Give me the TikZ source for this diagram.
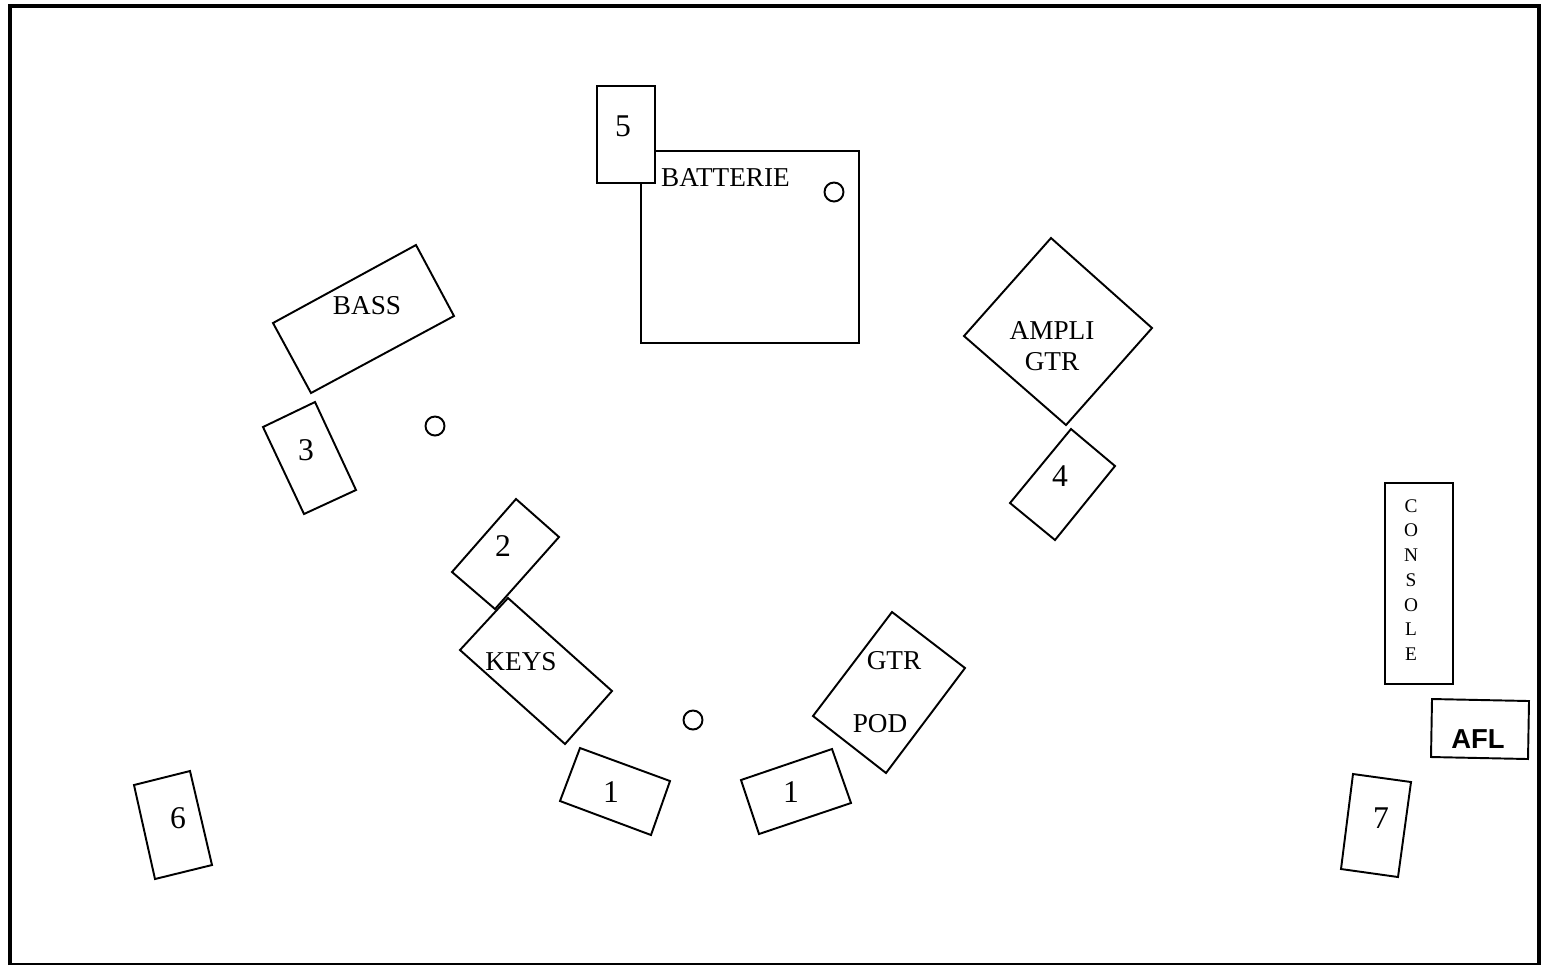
\documentclass[tikz,border=0pt]{standalone}
\usepackage{fontspec}
\setmainfont{Liberation Serif}
\newfontfamily\aflfont{Liberation Sans}
\tikzset{
  box/.style={draw,line width=0.55pt,line join=miter},
  mic/.style={draw,line width=0.55pt},
  lab/.style={font=\fontsize{7.75}{8.9}\selectfont,inner sep=0pt},
  num/.style={font=\fontsize{9}{11}\selectfont,inner sep=0pt}
}
\begin{document}
\begin{tikzpicture}[x=0.1mm,y=-0.1mm]
\useasboundingbox (0,0) rectangle (1546,965);
% frame
\draw[line width=1.15pt] (10,965) -- (10,6) -- (1538.5,6) -- (1538.5,965);
\draw[line width=0.4pt] (9,964) -- (1538,964);
% drums
\draw[box] (641,151) rectangle (859,343);
\draw[box,fill=white] (597,86) rectangle (655,183);
\node[num] (five) at (623,126) {5};
\node[lab] (drums) at (725.5,178) {BATTERIE};
\draw[mic] (834,192) circle (9.5);
% bass
\draw[box] (273,323) -- (416,245) -- (454,316) -- (311,393) -- cycle;
\node[lab] (bass) at (367,306) {BASS};
\draw[box] (263,427) -- (315,402) -- (356,490) -- (304,514) -- cycle;
\node[num] (three) at (306,450) {3};
\draw[mic] (435,426) circle (9.5);
% guitar amp
\draw[box] (964,336) -- (1051,238) -- (1152,328) -- (1066,425) -- cycle;
\node[lab,align=center] (amp) at (1052,346) {AMPLI\\GTR};
\draw[box] (1010,503) -- (1071,429) -- (1115,466) -- (1055,540) -- cycle;
\node[num] (four) at (1060,476) {4};
% keys
\draw[box] (452,572) -- (516,499) -- (559,537) -- (495,609) -- cycle;
\node[num] (two) at (503,546) {2};
\draw[box] (460,650) -- (508,598) -- (612,691) -- (565,744) -- cycle;
\node[lab] (keys) at (521,662) {KEYS};
% front
\draw[box] (580,748) -- (670,781) -- (651,835) -- (560,801) -- cycle;
\node[num] (oneleft) at (611,792) {1};
\draw[box] (741,780) -- (832,749) -- (851,803) -- (759,834) -- cycle;
\node[num] (oneright) at (791,792) {1};
\draw[box] (813,716) -- (892,612) -- (965,668) -- (886,773) -- cycle;
\node[lab] (gtr) at (894,661) {GTR};
\node[lab] (pod) at (880,724) {POD};
\draw[mic] (693,720) circle (9.5);
% sides
\draw[box] (134,785) -- (190,771) -- (212,865) -- (155,879) -- cycle;
\node[num] (six) at (178,818) {6};
\draw[box] (1353,774) -- (1411,782) -- (1398,877) -- (1341,869) -- cycle;
\node[num] (seven) at (1381,818) {7};
% desk
\draw[box] (1385,483) rectangle (1453,684);
\node[lab,font=\fontsize{5.5}{7.05}\selectfont,align=center] (desk) at (1411,580) {C\\O\\N\\S\\O\\L\\E};
\draw[box] (1432,699) -- (1529,701) -- (1528,759) -- (1431,757) -- cycle;
\node[lab,font=\aflfont\bfseries\fontsize{7.8}{9}\selectfont] (afl) at (1478,739) {AFL};
\end{tikzpicture}
\end{document}
